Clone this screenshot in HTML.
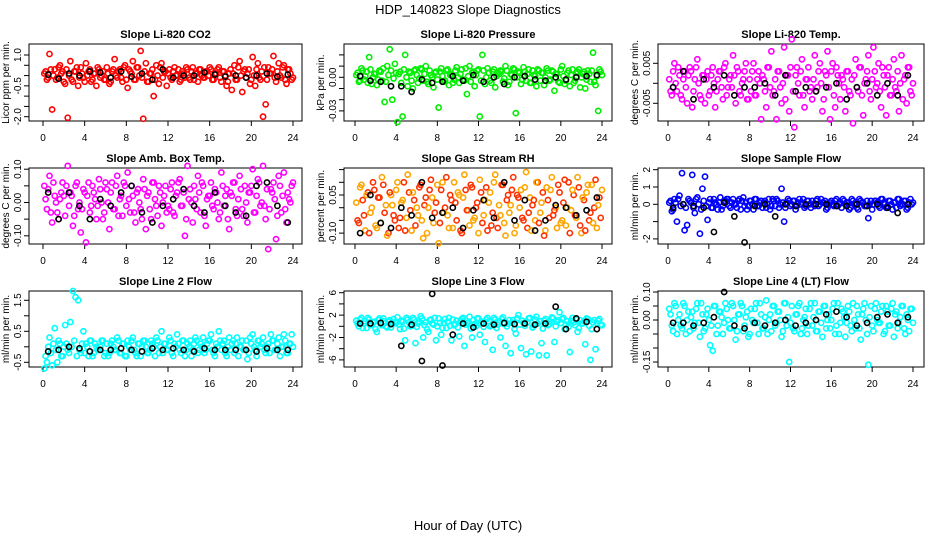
<!DOCTYPE html>
<html><head><meta charset="utf-8"><style>
html,body{margin:0;padding:0;background:#fff;}
svg{display:block;font-family:"Liberation Sans",sans-serif;}
</style></head><body>
<svg id="chart" width="936" height="540" viewBox="0 0 936 540">
<text x="468" y="14" text-anchor="middle" font-size="13">HDP_140823  Slope Diagnostics</text>
<text x="468" y="530" text-anchor="middle" font-size="13">Hour of Day (UTC)</text>
</svg>
<script>
// ---- data ----
const xTicks = [0,4,8,12,16,20,24];
const titles = ["Slope Li-820 CO2","Slope Li-820 Pressure","Slope Li-820 Temp.","Slope Amb. Box Temp.","Slope Gas Stream RH","Slope Sample Flow","Slope Line 2 Flow","Slope Line 3 Flow","Slope Line 4 (LT) Flow"];
const yTitles = ["Licor ppm per min.","kPa per min.","degrees C per min.","degrees C per min.","percent per min.","ml/min per min.","ml/min per min.","ml/min per min.","ml/min per min."];
const seriesColors = ["#ff0000","#00ee00","#ff00ff","#ff00ff","#ffa500","#0000ff","#00ffff","#00ffff","#00ffff"];
const hours = Array.from({length:96},(_,i)=>i*0.25+0.125);
const hoursB = Array.from({length:96},(_,i)=>i*0.25+0.25);
const blackHours = Array.from({length:24},(_,j)=>j+0.5);

const co2 = [0.1,-0.2,1.05,-1.65,0.3,-0.1,0.5,0.2,-0.4,-2.05,0.7,-0.3,0.2,-0.5,0.4,-0.1,0.6,0.2,-0.3,0.1,-0.5,0.3,0.0,-0.2,0.4,-0.4,0.2,0.8,-0.1,0.3,-0.3,0.5,-0.6,0.2,0.7,-0.2,0.4,1.2,-2.1,0.6,-0.3,0.1,-1.0,0.5,-0.4,0.6,0.2,-0.5,0.3,-0.2,0.4,0.0,-0.3,0.2,-0.1,0.3,-0.2,0.4,0.1,-0.3,0.3,-0.1,0.2,0.0,0.3,-0.2,0.1,0.4,-0.3,0.2,-0.5,0.1,-0.7,0.5,-0.2,0.7,-0.8,0.3,0.1,-0.4,0.9,-0.5,0.6,-0.2,-2.0,-1.4,0.4,0.1,0.95,-0.3,0.6,-0.1,0.5,-0.4,0.3,-0.2];
const co2B = [2,-1,3,0,-2,4,1,-3,3,0,-2,2,4,-1,1,-3,0,3,-2,1,4,-1,2,-2,1,-3,3,0,2,-1,4,-2,3,1,-2,4,0,-1,2,-3,1,3,-2,0,4,-1,2,1,-1,2,0,3,-2,1,4,-1,2,-2,1,3,0,-1,2,4,-2,1,3,-1,2,0,-3,3,1,-2,4,0,2,-1,3,-2,0,3,-1,2,4,-2,1,3,-1,2,0,4,-2,3,1,-1].map(v=>v*0.1);
const co2Mean = [0.05,-0.15,0.1,0.0,0.2,0.15,-0.1,0.2,-0.05,0.1,-0.2,0.3,-0.1,0.0,0.0,0.15,0.05,-0.05,0.0,-0.1,0.0,0.1,-0.05,0.05];
const pres = [2,-4,8,-2,5,18,-6,3,-7,6,-3,-22,10,25,-20,12,-40,5,-35,20,-8,4,-10,7,-5,8,-3,10,-6,2,-9,5,-27,8,-4,6,-7,3,-2,9,-5,7,-3,-15,10,4,-8,6,-35,20,-6,8,-3,5,-9,4,6,-4,10,-7,3,8,-32,5,-6,9,-3,7,-5,2,-8,6,4,-7,8,-3,6,-12,3,-5,10,-6,4,-8,7,-3,5,-9,3,-10,6,-4,22,-7,-30,5].map(v=>v*0.001);
const presB = [4,-3,6,1,-5,7,0,3,-2,5,8,-4,2,6,-1,4,3,-5,7,0,5,-3,6,2,-1,7,3,-4,6,0,4,-2,5,1,-3,7,2,-5,6,0,3,-2,8,1,-4,5,2,7,-3,6,0,4,-5,7,1,3,5,-1,6,-4,2,7,0,4,-2,5,3,-5,6,1,7,-3,4,0,6,-2,5,3,-4,7,1,-3,6,2,-5,4,7,0,5,-2,3,6,-4,1,7,2].map(v=>v*0.001);
const presMean = [1,-3,-4,-8,-8,-13,-2,-5,-4,1,-3,2,-4,0,-6,0,1,-2,-3,0,-2,0,1,2].map(v=>v*0.001);
const temp = [1,-3,5,-2,2,-4,3,-5,4,-6,1,6,-3,2,-5,3,-2,4,-6,1,3,-4,5,-1,2,7,-5,3,-3,1,5,-4,-2,5,-3,3,-9,1,-6,4,8,-2,-9,3,-5,9,2,-7,11,-11,4,-3,6,-6,1,-2,-4,7,-1,5,-7,3,8,-9,5,-6,2,-4,1,-7,3,-3,-10,6,-2,4,-8,1,7,-4,9,-1,5,-6,2,-8,4,-3,6,-2,-7,7,1,-5,4,-3].map(v=>v*0.001);
const tempB = [-2,3,0,4,-3,1,-1,2,3,-2,4,0,-4,2,1,-3,2,0,-2,3,-1,4,-3,1,-1,2,4,-2,0,3,-4,1,3,-3,1,0,2,-2,4,-1,-3,1,3,-1,0,-4,2,4,-2,2,0,3,-3,1,4,-1,1,-2,3,0,-4,2,-1,3,-3,4,0,2,-1,3,-2,1,2,-1,4,-3,0,3,-2,1,3,0,-2,4,-1,2,-3,1,-1,3,0,-4,2,4,-2,0].map(v=>v*0.001);
const tempMean = [-1,3,-4,1,-1,2,-3,-1,-1,0,-3,2,-2,-1,-2,-1,0,-4,-1,0,-3,0,-3,2].map(v=>v*0.001);
const amb = [5,-2,8,-6,2,-3,1,6,-4,11,3,-7,5,-2,-9,4,-12,6,-1,3,-5,7,0,-3,4,-8,6,-2,8,1,-4,5,9,-3,2,-6,4,-2,7,-8,3,-5,6,-1,5,-7,2,-3,-2,6,-4,3,7,-1,-10,11,4,-6,1,8,-3,5,-7,2,6,-2,3,-5,9,-1,4,-8,2,6,-4,8,-2,5,-6,3,10,-3,7,-1,11,-5,-14,4,6,-11,8,-3,9,-6,1,5].map(v=>v*0.01);
const ambB = [1,4,-3,6,0,-5,3,2,5,-1,2,-4,6,0,-2,3,2,-3,5,1,-1,4,-5,6,0,3,-2,5,-4,2,6,-1,1,5,-3,3,0,-5,4,2,-2,6,1,-4,3,0,5,-1,4,-3,2,6,-1,3,-5,1,0,5,-2,3,6,-4,1,2,-1,4,0,-3,5,2,-5,3,6,-2,1,4,-4,0,3,5,-3,2,6,0,-1,4,-2,3,1,-4,5,2,-2,3,0,6].map(v=>v*0.01);
const ambMean = [3,-5,3,-1,-5,1,-1,3,5,-3,-6,-1,1,4,-1,-3,3,-1,-3,-4,5,6,-1,-6].map(v=>v*0.01);
const rh = [2,-6,9,-3,5,-10,0,7,-8,4,12,-2,-11,6,1,-5,10,-4,3,-9,13,-1,6,-7,-3,9,-12,4,0,11,-6,2,-14,7,-2,12,-8,3,10,-5,5,-10,13,-1,-7,8,-4,2,11,-6,3,-9,6,-2,13,-8,-3,9,-11,5,1,12,-7,4,7,-5,14,-2,-9,3,10,-6,2,-11,8,-4,12,-1,-8,6,-5,11,0,-10,7,-3,12,-7,4,-9,9,-2,-6,11,1,-4].map(v=>v*0.01);
const rhB = [-5,8,3,-9,6,-2,10,-7,4,-6,9,1,-10,5,-3,7,-8,2,10,-4,6,-9,3,0,8,-5,1,-10,7,4,-2,9,-6,10,0,-3,5,-8,2,6,-9,4,7,-1,9,-5,0,-10,6,-3,8,2,-7,10,-4,1,9,-6,3,-2,7,-10,5,0,-4,8,-8,4,1,-5,10,-2,6,-9,3,7,-3,0,9,-6,2,-7,10,-1,5,-4,8,-10,3,6,-5,9,0,-8,4,7].map(v=>v*0.01);
const rhMean = [-10,5,-6,-8,0,-3,10,-4,-2,0,-8,-1,3,-4,10,-5,3,-9,-5,1,0,-3,-1,4].map(v=>v*0.01);
const sflow = [0.1,-0.4,0.3,-1.0,0.5,1.8,-1.5,-1.2,0.2,1.7,-0.5,0.4,-1.7,0.9,1.6,-0.9,0.3,-0.2,0.1,-0.3,0.4,-0.1,0.2,0.3,-0.2,0.3,0.0,0.2,-0.3,0.4,0.1,-0.1,0.2,-0.3,0.3,-0.1,0.2,0.1,-0.2,0.3,-0.1,0.2,0.3,-0.2,0.9,-1.0,0.1,0.2,0.0,0.2,-0.1,0.3,0.1,-0.2,0.2,0.0,0.2,-0.1,0.3,0.0,0.1,0.2,-0.2,0.1,0.0,0.2,-0.1,0.1,0.3,0.0,0.1,-0.2,0.2,0.0,-0.3,0.2,0.1,-0.1,-0.8,0.2,0.0,0.2,-0.1,0.3,0.1,-0.2,0.2,0.0,0.1,-0.2,0.3,0.0,0.2,-0.3,0.1,0.0];
const sflowB = [2,-3,1,3,-1,0,-2,3,1,-2,3,0,-3,2,-1,1,-2,3,0,1,-3,2,3,-1,1,0,-2,3,2,-1,-3,2,0,3,-1,1,-2,2,0,-3,3,-1,2,0,1,-2,3,-1,2,-3,1,0,3,-1,2,-2,0,2,-1,3,1,-3,0,2,-1,3,0,-2,2,1,-3,3,0,-2,3,1,-1,2,0,-3,2,1,-2,3,0,-1,2,-3,1,3,-1,0,2,-2,3,1].map(v=>v*0.1);
const sflowMean = [-0.2,0.0,-0.1,-0.2,-1.6,0.1,-0.7,-2.2,-0.1,0.0,-0.7,0.0,-0.1,0.0,0.0,0.0,-0.1,-0.1,0.0,-0.1,0.0,-0.2,-0.5,0.0];
const line2 = [-0.7,-0.5,0.3,-0.6,0.6,-0.5,0.1,-0.3,0.7,-0.1,0.8,1.8,1.6,1.5,-0.2,0.5,0.1,-0.3,0.2,-0.2,0.0,-0.1,0.2,-0.3,0.1,-0.2,0.2,-0.1,0.3,-0.2,0.1,-0.3,0.2,-0.1,0.3,-0.2,0.1,-0.3,0.2,0.0,-0.2,0.2,0.0,0.3,-0.2,0.5,0.1,-0.1,0.3,-0.2,0.1,0.4,-0.1,0.2,-0.3,0.1,0.2,-0.1,0.3,-0.2,0.1,0.3,-0.1,0.2,0.4,-0.2,0.1,0.5,-0.1,0.2,-0.3,0.3,0.1,-0.2,0.3,0.0,0.2,-0.1,-0.4,0.3,0.4,-0.1,0.2,0.0,0.3,-0.2,0.1,0.4,0.2,-0.1,0.3,0.0,0.4,-0.2,0.1,0.4];
const line2B = [-3,0,-2,1,-1,2,-3,0,1,-2,0,2,-3,-1,1,-2,0,2,-3,1,-1,0,2,-2,-3,1,0,-1,2,-2,1,-3,0,2,-1,-3,1,0,2,-2,-1,1,-3,2,0,-2,1,-1,2,-3,0,1,-2,2,-1,0,-3,1,2,-1,0,-2,1,2,-1,-3,0,2,1,-2,0,-1,2,1,-3,0,-1,2,-2,1,0,-3,2,1,-1,0,-2,2,-1,1,-3,0,2,-2,1,0].map(v=>v*0.1);
const line2Mean = [-0.15,-0.1,0.0,-0.05,-0.15,-0.1,-0.1,-0.05,-0.1,-0.15,-0.05,-0.1,-0.05,-0.1,-0.15,-0.05,-0.1,-0.1,-0.1,-0.1,-0.15,-0.05,-0.1,-0.1];
const line3 = [1.0,0.0,1.5,0.5,-0.3,1.2,0.3,0.8,-1.0,1.4,0.2,0.9,-0.2,1.1,0.4,0.7,1.6,-0.5,0.8,-2.5,1.2,0.0,1.5,-3.0,0.5,1.8,-2.0,0.7,-1.0,1.2,0.3,-2.5,1.4,-1.5,0.6,-0.3,1.5,-2.5,0.2,1.0,-1.8,1.3,-3.5,0.6,1.7,-2.0,0.4,1.4,-1.5,0.8,-2.8,1.5,0.0,-4.2,1.2,0.3,-2.0,1.6,-3.5,0.5,-4.8,1.1,-1.3,2.0,-3.9,0.6,-5.0,1.4,-4.5,0.2,1.7,-5.2,-3.0,1.0,-5.2,0.4,1.6,-2.8,0.8,2.5,1.3,-0.5,0.9,-4.6,1.5,0.2,-1.0,1.1,0.5,-3.2,1.3,-6.0,0.7,-4.1,1.0,0.3];
const line3B = [5,12,-3,9,15,2,7,-5,11,4,14,0,8,-2,13,6,3,10,-4,15,7,1,12,-1,9,14,2,-5,11,5,15,0,6,-3,13,8,1,12,4,-2,10,15,3,7,-4,11,0,14,5,-1,12,9,2,15,-3,8,13,4,0,11,6,-5,14,3,10,1,7,15,-2,12,5,9,-4,13,2,8,14,0,11,6,15,3,-1,10,7,12,-3,5,9,14,1,-5,11,6,13,2].map(v=>v*0.1);
const line3Mean = [0.5,0.5,0.6,0.4,-3.5,0.3,-6.2,5.8,-7.0,-1.5,0.5,-0.2,0.5,0.3,0.6,0.4,0.5,0.3,0.5,3.5,-0.5,1.4,0.8,-0.5];
const line4 = [4,-2,6,-5,2,-3,5,0,-4,3,-1,6,-6,2,-3,4,-9,-11,5,-2,3,-5,6,0,-3,5,-7,2,6,-4,1,-6,4,-1,6,-5,2,-3,7,0,-4,5,-1,3,-6,6,-2,-15,5,-4,2,6,-3,1,-5,4,-2,6,-4,3,-6,5,0,-3,4,-5,6,-1,3,-6,5,-2,6,-3,2,-7,4,0,-16,5,-4,6,-1,3,-5,5,-2,4,-6,3,-1,5,-3,2,-4,4].map(v=>v*0.01);
const line4B = [2,-4,5,0,-2,6,-5,3,1,-3,4,-1,6,-4,2,0,-2,5,-5,3,1,-1,4,-3,6,0,-4,2,5,-2,3,-5,0,4,-1,6,-3,1,-5,2,5,-2,3,0,-4,6,1,-1,-3,2,5,-5,0,4,-2,6,1,-4,3,-1,5,-3,2,0,6,-2,-5,4,1,-1,3,-4,0,5,-3,2,6,-5,1,-2,4,0,-1,5,-4,3,-2,6,2,-3,1,5,-5,0,4,-1].map(v=>v*0.01);
const line4Mean = [-1,-1,-2,-1,1,10,-2,-3,-1,-2,-1,0,-2,-1,0,2,3,1,-2,-1,1,2,-1,1].map(v=>v*0.01);

const seriesVals = [co2,pres,temp,amb,rh,sflow,line2,line3,line4];
const seriesValsB = [co2B,presB,tempB,ambB,rhB,sflowB,line2B,line3B,line4B];
const meanVals = [co2Mean,presMean,tempMean,ambMean,rhMean,sflowMean,line2Mean,line3Mean,line4Mean];
const yTickVals = [[1,0.5,0,-0.5,-1,-1.5,-2],[0.02,0.01,0,-0.01,-0.02,-0.03],[0.005,0,-0.005],[0.10,0.05,0,-0.05,-0.10],[0.15,0.10,0.05,0,-0.05,-0.10],[2,1,0,-1,-2],[1.5,1.0,0.5,0,-0.5],[6,4,2,0,-2,-4,-6],[0.10,0.05,0,-0.05,-0.10,-0.15]];
const yTickLabels = [["1.0","","","-0.5","","","-2.0"],["","","0.00","","","-0.03"],["0.005","","-0.005"],["0.10","","0.00","","-0.10"],["","","0.05","","","-0.10"],["2","1","0","","-2"],["1.5","","0.5","","-0.5"],["6","","2","","-2","","-6"],["0.10","","0.00","","","-0.15"]];
// ---- layout (not data) ----
const colBox = [[29,302,43,293],[344,612,355,602],[658,924,668,913]];
const rowBox = [[44,121],[168,244],[291,367]];
const yMap = [[1,55,-2,116.7],[0,77.3,-0.03,110.9],[0.005,63.3,-0.005,103.3],[0.1,169.2,-0.1,235.8],[0.05,195,-0.1,233.1],[2,169.7,-2,238.9],[1.5,300.3,-0.5,362.3],[6,292.7,-6,359.9],[0.1,292,-0.15,362]];

const NS="http://www.w3.org/2000/svg";
const svg=document.getElementById('chart');
function mk(tag,attrs,parent){const e=document.createElementNS(NS,tag);for(const k in attrs)e.setAttribute(k,attrs[k]);(parent||svg).appendChild(e);return e;}

for(let p=0;p<9;p++){
  const c=p%3, r=Math.floor(p/3);
  const [bl,br,x0,x24]=colBox[c]; const [bt,bb]=rowBox[r];
  const [v1,p1,v2,p2]=yMap[p];
  const xs=h=>x0+(x24-x0)*h/24;
  const ys=v=>p1+(v-v1)*(p2-p1)/(v2-v1);
  const g=mk('g',{});
  
  
  const t=mk('text',{x:(bl+br)/2,y:bt-6,'text-anchor':'middle','font-size':11,'font-weight':'bold'},g);
  t.textContent=titles[p];
  
  
  const box=mk('rect',{x:bl,y:bt,width:br-bl,height:bb-bt,fill:'none',stroke:'#000','stroke-width':1},g);
  
  
  const xa=mk('g',{},g);
  
  
  mk('line',{x1:xs(0),x2:xs(24),y1:bb,y2:bb,stroke:'#000'},xa);
  xTicks.forEach(h=>{
    mk('line',{x1:xs(h),x2:xs(h),y1:bb,y2:bb+5,stroke:'#000'},xa);
    const l=mk('text',{x:xs(h),y:bb+20,'text-anchor':'middle','font-size':10},xa);
    l.textContent=h;
    
    
  });
  const ya=mk('g',{},g);
  
  
  yTickVals[p].forEach((v,i)=>{
    const y=ys(v);
    mk('line',{x1:bl-5,x2:bl,y1:y,y2:y,stroke:'#000'},ya);
    const lab=yTickLabels[p][i];
    if(lab){
      const l=mk('text',{x:bl-8,y:y,'text-anchor':'middle','font-size':10,transform:`rotate(-90 ${bl-8} ${y})`},ya);
      l.textContent=lab;
      
      
    }
  });
  const yt=mk('text',{x:bl-20,y:(bt+bb)/2,'text-anchor':'middle','font-size':10,transform:`rotate(-90 ${bl-20} ${(bt+bb)/2})`},g);
  yt.textContent=yTitles[p];
  
  
  const sg=mk('g',{fill:'none',stroke:seriesColors[p],'stroke-width':1.6},g);
  
  
  seriesValsB[p].forEach((v,i)=>{
    const cc=mk('circle',{cx:xs(hoursB[i]),cy:ys(v),r:2.6},sg);
    if(p===4 && i%2===0) cc.setAttribute('stroke','#ff3000');
    
    
  });
  seriesVals[p].forEach((v,i)=>{
    const cc=mk('circle',{cx:xs(hours[i]),cy:ys(v),r:2.6},sg);
    if(p===4 && i%2) cc.setAttribute('stroke','#ff3000');
    
    
  });
  const mg=mk('g',{fill:'none',stroke:'#000','stroke-width':1.6},g);
  
  
  meanVals[p].forEach((v,i)=>{
    const cc=mk('circle',{cx:xs(blackHours[i]),cy:ys(v),r:2.6},mg);
    
    
  });
}
</script>
</body></html>
